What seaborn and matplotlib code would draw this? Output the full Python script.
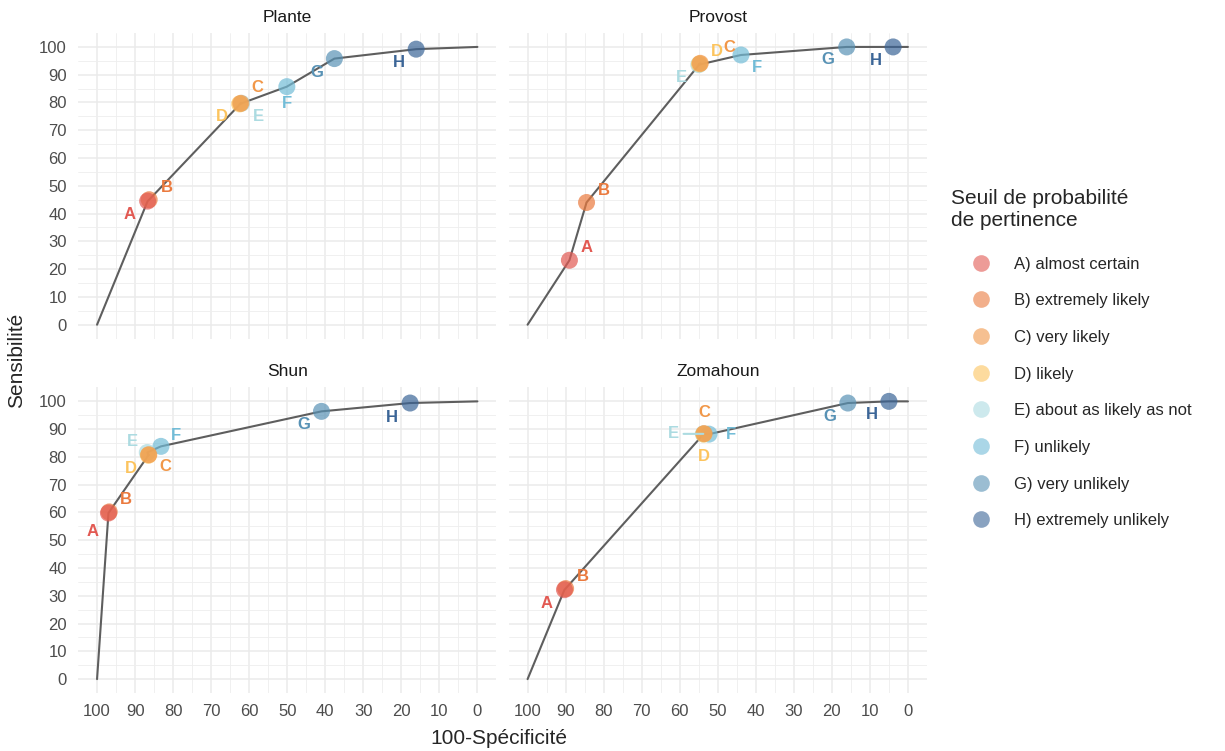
import matplotlib
matplotlib.use("Agg")
import matplotlib.pyplot as plt
import seaborn as sns
import pandas as pd
from matplotlib.lines import Line2D

# data (x = 100 - specificity, y = sensitivity)
studies = ["Plante", "Provost", "Shun", "Zomahoun"]
thresholds = ["A", "B", "C", "D", "E", "F", "G", "H"]
threshold_names = ["A) almost certain", "B) extremely likely", "C) very likely", "D) likely",
                   "E) about as likely as not", "F) unlikely", "G) very unlikely",
                   "H) extremely unlikely"]

plante_x = [86.7, 86.3, 62.2, 62.5, 62.0, 50.1, 37.6, 16.1]
plante_y = [44.5, 45.0, 79.7, 79.5, 79.7, 85.7, 95.8, 99.2]
provost_x = [89.0, 84.5, 54.6, 54.8, 55.0, 43.9, 16.1, 3.9]
provost_y = [23.2, 44.0, 94.1, 93.9, 93.6, 97.1, 100.0, 100.0]
shun_x = [97.0, 96.8, 86.4, 86.5, 86.8, 83.2, 41.0, 17.7]
shun_y = [59.8, 60.2, 80.8, 80.6, 81.6, 83.8, 96.4, 99.4]
zomahoun_x = [90.3, 90.0, 53.6, 53.7, 53.8, 52.3, 15.8, 5.0]
zomahoun_y = [32.2, 32.6, 88.4, 88.2, 88.3, 88.2, 99.4, 100.0]

# ROC curve ends
start_x, start_y = 100, 0
end_x, end_y = 0, 100

colors = ["#E25952", "#EA7A3E", "#F19748", "#FCC45E", "#ACDBE1", "#72BCD7", "#5892B5", "#3B6597"]

# label nudges in pixels (dx right, dy down), like ggrepel placed them
nudges = {
    "Plante": {"A": (-18, 13), "B": (18, -12), "C": (16, -16), "D": (-18, 13),
               "E": (17, 13), "F": (0, 17), "G": (-18, 14), "H": (-17, 13)},
    "Provost": {"A": (17, -13), "B": (17, -12), "C": (29, -16), "D": (17, -12),
                "E": (-17, 13), "F": (16, 13), "G": (-19, 13), "H": (-17, 14)},
    "Shun": {"A": (-16, 18), "B": (17, -12), "C": (17, 12), "D": (-18, 13),
             "E": (-15, -11), "F": (15, -11), "G": (-18, 13), "H": (-18, 14)},
    "Zomahoun": {"A": (-18, 14), "B": (17, -12), "C": (0, -21), "D": (0, 22),
                 "E": (-30, 0), "F": (22, 0), "G": (-18, 13), "H": (-17, 13)},
}

xs = {"Plante": plante_x, "Provost": provost_x, "Shun": shun_x, "Zomahoun": zomahoun_x}
ys = {"Plante": plante_y, "Provost": provost_y, "Shun": shun_y, "Zomahoun": zomahoun_y}

sns.set_theme(style="whitegrid")
plt.rcParams["font.family"] = ["Liberation Sans", "DejaVu Sans"]

fig, axes = plt.subplots(2, 2, figsize=(12.25, 7.51), dpi=100, sharex=True, sharey=True)
fig.subplots_adjust(left=0.0637, right=0.7567, top=0.956, bottom=0.0772, wspace=0.029, hspace=0.16)

for ax, study in zip(axes.flat, studies):
    df = pd.DataFrame({"x": xs[study], "y": ys[study], "seuil": thresholds})
    line = pd.DataFrame({"x": [start_x] + xs[study] + [end_x],
                         "y": [start_y] + ys[study] + [end_y]})
    sns.lineplot(data=line, x="x", y="y", ax=ax, color="#5E5E5E", linewidth=1.5, sort=False,
                 zorder=2)
    # draw H first so that A ends up on top
    rev = df.iloc[::-1]
    sns.scatterplot(data=rev, x="x", y="y", hue="seuil", hue_order=thresholds,
                    palette=colors, s=150, alpha=0.7, edgecolor="none", ax=ax,
                    legend=False, zorder=3)
    for i, lab in enumerate(thresholds):
        dx, dy = nudges[study][lab]
        arrow = None
        if abs(dx) > 25 and dy == 0:
            arrow = dict(arrowstyle="-", color=colors[i], lw=1.5, shrinkA=1, shrinkB=0)
        ax.annotate(lab, (df["x"][i], df["y"][i]), xytext=(dx, -dy),
                    textcoords="offset pixels", ha="center", va="center",
                    color=colors[i], fontsize=12, fontweight="bold", arrowprops=arrow,
                    zorder=4)

    ax.set_xlim(105, -5)
    ax.set_ylim(-5, 105)
    ax.set_xticks(range(0, 101, 10))
    ax.set_yticks(range(0, 101, 10))
    ax.set_xticks(range(5, 101, 10), minor=True)
    ax.set_yticks(range(5, 101, 10), minor=True)
    ax.grid(which="major", color="#EBEBEB", linewidth=1.1)
    ax.grid(which="minor", color="#EEEEEE", linewidth=0.6)
    ax.set_facecolor("white")
    for s in ax.spines.values():
        s.set_visible(False)
    ax.tick_params(which="both", length=0, labelsize=12, labelcolor="#4D4D4D", pad=8)
    ax.set_xlabel("")
    ax.set_ylabel("")
    ax.set_title(study, fontsize=12.5, color="#1A1A1A", pad=8)

fig.supxlabel("100-Spécificité", fontsize=15, x=0.407, y=0.004)
fig.supylabel("Sensibilité", fontsize=15, x=0.006, y=0.52)

handles = [Line2D([], [], marker="o", linestyle="", markersize=12, markerfacecolor=c,
                  markeredgecolor="none", alpha=0.6) for c in colors]
leg = fig.legend(handles, threshold_names, title="Seuil de probabilité\nde pertinence",
                 loc="upper left", bbox_to_anchor=(0.771, 0.757), frameon=False,
                 fontsize=12, title_fontsize=15, labelspacing=1.3, handlelength=3.6,
                 handletextpad=0.15, borderaxespad=0)
leg._legend_box.align = "left"
leg._legend_box.sep = 19

fig.savefig("out.png", dpi=100, facecolor="white")
